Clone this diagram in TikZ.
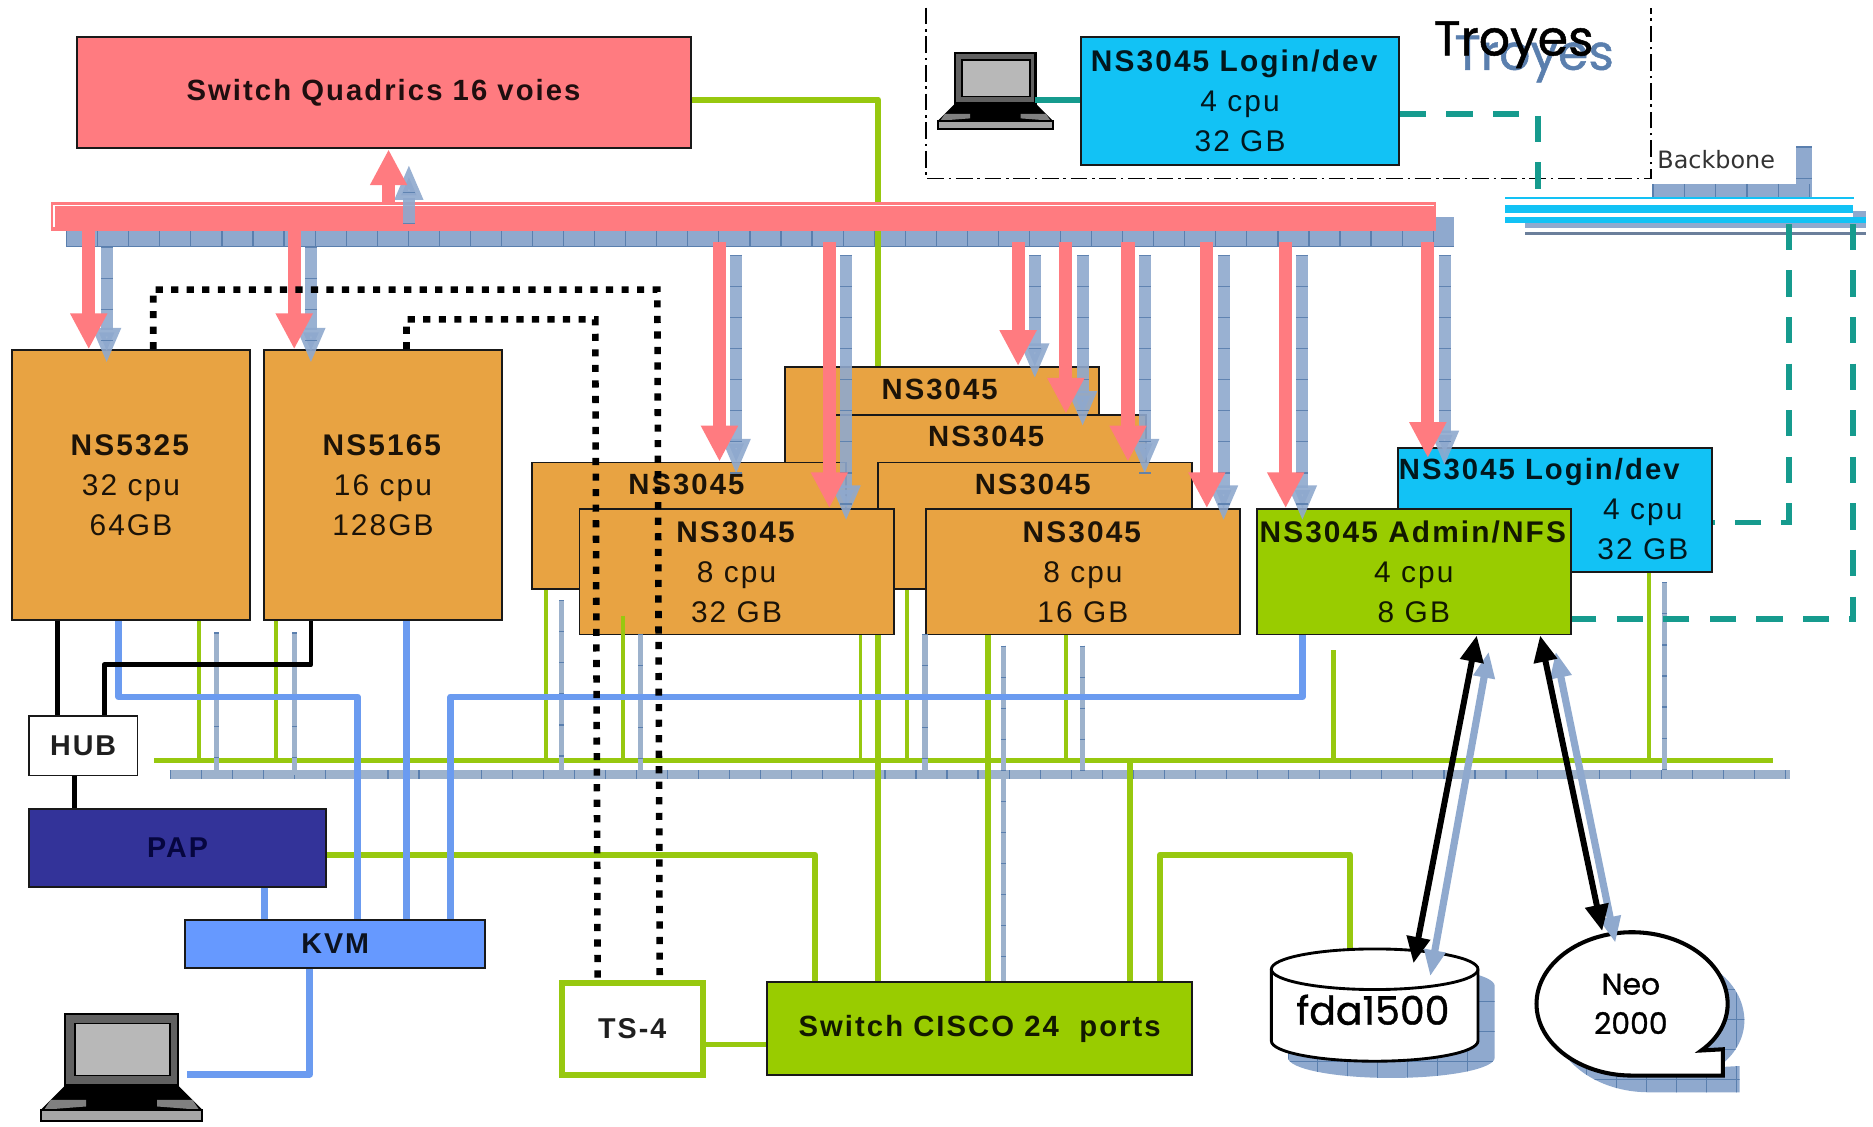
\documentclass[tikz,border=0pt]{standalone}
\usepackage{fontspec}
\setmainfont{Liberation Sans}
\newfontfamily\labfont[LetterSpace=7]{Liberation Sans}
\newfontfamily\comicfont[FakeBold=1]{Poppins}
\newfontfamily\bbfont{DejaVu Sans}
\usetikzlibrary{arrows.meta}
\definecolor{qpink}{HTML}{FF7B80}
\definecolor{qorange}{HTML}{E8A342}
\definecolor{qcyan}{HTML}{12C2F5}
\definecolor{qgreen}{HTML}{99CC00}
\definecolor{qline}{HTML}{97C80F}
\definecolor{qsteel}{HTML}{8FA9CE}
\definecolor{qtick}{HTML}{5A7FAE}
\definecolor{qgrey}{HTML}{9DB2CC}
\definecolor{qkvm}{HTML}{6699FF}
\definecolor{qkvl}{HTML}{6B9BF0}
\definecolor{qnavy}{HTML}{333399}
\definecolor{qteal}{HTML}{169B8E}
\tikzset{
  x=1pt,y=-1pt,
  boxbase/.style={draw=black!90,line width=1.6pt,anchor=north west,inner sep=0pt,align=center,text opacity=.88,
    font=\labfont\fontsize{25}{33.5}\selectfont},
  orangebox/.style={boxbase,fill=qorange},
  cyanbox/.style={boxbase,fill=qcyan},
  greenbox/.style={boxbase,fill=qgreen},
  busfill/.style={anchor=north west,inner sep=0pt,outer sep=0pt},
  toplabel/.style={font=\labfont\bfseries\fontsize{24.5}{30}\selectfont,text opacity=.88},
  pinkarrow/.style={draw=qpink,line width=11pt,-{Triangle[width=29pt,length=30pt,fill=qpink]}},
  steelarrow/.style={draw=qsteel,opacity=.9,line width=10pt,-{Triangle[width=22pt,length=30pt,fill=qsteel]},
    postaction={draw=qtick,arrows=-,dash pattern=on 1pt off 25pt}},
  greenthin/.style={draw=qline,line width=3.2pt},
  greenwide/.style={draw=qline,line width=5pt,line join=round},
  steelthin/.style={draw=qgrey,line width=4.5pt,postaction={draw=qtick,dash pattern=on 1pt off 25pt}},
  kvmline/.style={draw=qkvl,line width=5.5pt,line join=round},
  blackline/.style={draw=black,line width=4pt,line join=round},
  dotline/.style={draw=black,line width=5.5pt,dash pattern=on 6pt off 7pt},
  tealsolid/.style={draw=qteal,line width=5pt},
  tealdash/.style={draw=qteal,line width=5pt,dash pattern=on 22pt off 17pt},
  blackarrow/.style={draw=black,line width=5pt,{Triangle[width=19pt,length=22pt]}-{Triangle[width=19pt,length=22pt]}},
  shadowarrow/.style={draw=qsteel,line width=6pt,{Triangle[width=17pt,length=22pt]}-{Triangle[width=17pt,length=22pt]}},
  laptop/.pic={
    \draw[fill=black!62,draw=black,line width=2pt] (15,1) rectangle (85,45);
    \draw[fill=black!28,draw=black,line width=1.4pt] (21,7) rectangle (80,39);
    \fill[black] (15,45) -- (85,45) -- (100,60) -- (0,60) -- cycle;
    \fill[black!50] (6,54) -- (28,54) -- (28,58) -- (2,60) -- cycle;
    \fill[black!50] (72,54) -- (94,54) -- (98,60) -- (72,58) -- cycle;
    \draw[fill=black!35,draw=black,line width=1.6pt] (0,60) rectangle (100,67);
  },
}
\newcommand{\neopath}{(1425,880) .. controls (1439,870) and (1447,856) .. (1447,841) .. controls (1447,808) and (1411,781) .. (1367,781) .. controls (1323,781) and (1287,808) .. (1287,841) .. controls (1287,874) and (1323,901) .. (1367,901) -- (1443,901) -- (1443,879) -- cycle}
\newcommand{\diskpath}{(1065,812) -- (1065,872) .. controls (1065,881.4) and (1104,889) .. (1151.5,889) .. controls (1199,889) and (1238,881.4) .. (1238,872) -- (1238,812) .. controls (1238,802.6) and (1199,795) .. (1151.5,795) .. controls (1104,795) and (1065,802.6) .. (1065,812) -- cycle}
\begin{document}
\begin{tikzpicture}
\useasboundingbox[fill=white] (0,0) rectangle (1568,943);
\begin{scope}[shift={(-1.7,-1.6)}]

% frame of Troyes
\draw[black,line width=1.3pt,dash pattern=on 14pt off 4pt on 2pt off 4pt] (777,8) -- (777,151) -- (1384,151) -- (1384,8);

% top buses
\node[busfill,fill=qsteel,minimum width=1162pt,minimum height=25pt] (steelbus) at (57,183) {};
\draw[draw=qtick,line width=25pt,dash pattern=on 1pt off 25pt] (steelbus.west) -- (steelbus.east);
\draw[draw=qtick,line width=1.5pt] (steelbus.south west) -- (steelbus.south east);

% Quadrics
\node[boxbase,fill=qpink,minimum width=514pt,minimum height=93pt,font=\labfont\bfseries\fontsize{24.5}{30}\selectfont] (quadrics) at (65,32) {Switch Quadrics 16 voies};
\coordinate (quadup) at (737,85);

% bottom buses
\node[busfill,fill=qgrey,minimum width=1356pt,minimum height=8pt] (greybus) at (144,646) {};
\draw[draw=qtick,line width=8pt,dash pattern=on 1pt off 25pt] (greybus.west) -- (greybus.east);
\node[busfill,fill=qline,minimum width=1355pt,minimum height=4pt] (greenbus) at (131,636) {};

% servers
\node[orangebox,minimum width=199pt,minimum height=226pt] (ns5325) at (11,294) {\textbf{NS5325}\\32 cpu\\64GB};
\node[orangebox,minimum width=199pt,minimum height=226pt] (ns5165) at (222,294) {\textbf{NS5165}\\16 cpu\\128GB};
\node[orangebox,minimum width=263pt,minimum height=106pt,label={[toplabel,anchor=north,yshift=-7pt,xshift=-2pt]north:NS3045}] (srvA) at (658,308) {};
\node[orangebox,minimum width=263pt,minimum height=106pt,label={[toplabel,anchor=north,yshift=-7pt,xshift=-2pt]north:NS3045}] (srvB) at (697,348) {};
\node[orangebox,minimum width=263pt,minimum height=106pt,label={[toplabel,anchor=north,yshift=-7pt,xshift=-2pt]north:NS3045}] (srvC) at (446,388) {};
\node[orangebox,minimum width=263pt,minimum height=106pt,label={[toplabel,anchor=north,yshift=-7pt,xshift=-2pt]north:NS3045}] (srvD) at (736,388) {};
\node[orangebox,minimum width=263pt,minimum height=105pt] (srvE) at (486,427) {\textbf{NS3045}\\8 cpu\\32 GB};
\node[orangebox,minimum width=263pt,minimum height=105pt] (srvF) at (776,427) {\textbf{NS3045}\\8 cpu\\16 GB};
\node[cyanbox,minimum width=263pt,minimum height=104pt,
  label={[toplabel,anchor=north,yshift=-6pt,xshift=-13pt]north:NS3045 Login/dev}] (login2) at (1171,376) {};
\node[anchor=center,font=\labfont\fontsize{25}{33.5}\selectfont,align=center,text opacity=.88] (login2t) at (1377,445) {4 cpu\\32 GB};
\node[greenbox,minimum width=263pt,minimum height=105pt] (admin) at (1053,427) {\textbf{NS3045 Admin/NFS}\\4 cpu\\8 GB};
\node[cyanbox,minimum width=266pt,minimum height=107pt] (login1) at (906,32) {\textbf{NS3045 Login/dev}\hspace*{8pt}\\4 cpu\\32 GB};

% small boxes
\node[boxbase,fill=white,minimum width=91pt,minimum height=50pt,font=\labfont\bfseries\fontsize{24}{30}\selectfont] (hub) at (25,600) {HUB};
\node[boxbase,fill=qnavy,minimum width=249pt,minimum height=65pt,font=\labfont\bfseries\fontsize{24}{30}\selectfont,text=black!80!blue] (pap) at (25,678) {PAP};
\node[boxbase,fill=qkvm,minimum width=251pt,minimum height=40pt,font=\labfont\bfseries\fontsize{24}{30}\selectfont] (kvm) at (156,771) {KVM};
\node[boxbase,fill=qgreen,minimum width=356pt,minimum height=78pt,font=\labfont\bfseries\fontsize{24.5}{30}\selectfont] (cisco) at (643,823) {\raisebox{-3pt}{Switch CISCO 24\ \ ports}};
\node[boxbase,draw=qline,line width=5pt,fill=white,minimum width=118pt,minimum height=77pt,font=\labfont\fontsize{24}{30}\selectfont\bfseries] (ts) at (469.5,822) {TS-4};

% green links
\draw[greenwide] (quadrics.east |- quadup) -- (quadup) -- (737,0 |- steelbus.north);
\draw[greenwide] (737,0 |- steelbus.north) -- (737,0 |- srvA.north);
\node[busfill,fill=qpink,minimum width=1160pt,minimum height=24pt] (pinkbus) at (44,171) {};
\draw[white,line width=1.3pt] (1202,173.5) -- (47,173.5) -- (47,192);
\draw[greenwide] (737,0 |- srvE.south) -- (737,0 |- cisco.north);
\draw[greenwide] (829,0 |- srvF.south) -- (829,0 |- cisco.north);
\draw[greenwide] (948,0 |- greenbus.north) -- (948,0 |- cisco.north);
\coordinate (papturn) at (684,717);
\draw[greenwide] (pap.east |- papturn) -- (papturn) -- (684,0 |- cisco.north);
\coordinate (ciscoturnA) at (973,717);
\coordinate (ciscoturnB) at (1132,717);
\coordinate (disktop) at (1132,798);
\draw[greenwide] (973,0 |- cisco.north) -- (ciscoturnA) -- (ciscoturnB) -- (disktop);
\coordinate (tsout) at (591,876);
\draw[greenwide] (tsout) -- (cisco.west |- tsout);
\foreach \x/\n in {168/ns5325,233/ns5165,459/srvC,722/srvE,761/srvD,894/srvF,1382/login2}
  \draw[greenthin] (\x,0 |- \n.south) -- (\x,0 |- greenbus);
\coordinate (ginE) at (523,517);
\draw[greenthin] (ginE) -- (523,0 |- greenbus);
\coordinate (gfree) at (1118,546);
\draw[greenthin,line width=4pt] (gfree) -- (1118,0 |- greenbus);

% steel thin links
\foreach \x/\y in {183/531,248/531,472/504,538/532,776/532,908/542,1395/489}{
  \coordinate (st\x) at (\x,\y);
  \draw[steelthin] (st\x) -- (\x,0 |- greybus);
}
\coordinate (stcis) at (842,542);
\draw[steelthin] (stcis) -- (842,0 |- cisco.north);

% blue links
\coordinate (k1a) at (101,585); \coordinate (k1b) at (301,585);
\draw[kvmline] (101,0 |- ns5325.south) -- (k1a) -- (k1b) -- (301,0 |- kvm.north);
\draw[kvmline] (342,0 |- ns5165.south) -- (342,0 |- kvm.north);
\coordinate (k3a) at (379,585); \coordinate (k3b) at (1092,585);
\draw[kvmline] (379,0 |- kvm.north) -- (k3a) -- (k3b) -- (1092,0 |- admin.south);
\draw[kvmline] (223,0 |- pap.south) -- (223,0 |- kvm.north);
\coordinate (k4) at (261,901); \coordinate (lapB) at (158,901);
\draw[kvmline] (261,0 |- kvm.south) -- (k4) -- (lapB);

% black links
\draw[blackline] (50,0 |- ns5325.south) -- (50,0 |- hub.north);
\coordinate (b1) at (262,558); \coordinate (b2) at (89,558);
\draw[blackline] (262,0 |- ns5165.south) -- (b1) -- (b2) -- (89,0 |- hub.north);
\draw[blackline] (64,0 |- hub.south) -- (64,0 |- pap.north);

% steel arrows down and up
\draw[steelarrow] (91,0 |- steelbus.south) -- (91,306);
\draw[steelarrow] (262,0 |- steelbus.south) -- (262,306);
\foreach \x/\y in {618/399,710/438,868/319,908/359,960/399,1026/438,1092/438,1211/392}{
  \coordinate (sa\x) at (\x,215);
  \draw[steelarrow] (sa\x) -- (\x,\y);
}
\coordinate (supb) at (344,189); \coordinate (supt) at (344,139);
\draw[steelarrow] (supb) -- (supt);

% pink arrows
\draw[pinkarrow] (327,0 |- pinkbus.north) -- (327,0 |- quadrics.south);
\draw[pinkarrow] (76,0 |- pinkbus.south) -- (76,0 |- ns5325.north);
\draw[pinkarrow] (248,0 |- pinkbus.south) -- (248,0 |- ns5165.north);
\draw[pinkarrow] (604,204) -- (604,0 |- srvC.north);
\draw[pinkarrow] (696,204) -- (696,0 |- srvE.north);
\draw[pinkarrow] (854,204) -- (854,0 |- srvA.north);
\draw[pinkarrow] (894,204) -- (894,0 |- srvB.north);
\draw[pinkarrow] (946,204) -- (946,0 |- srvD.north);
\draw[pinkarrow] (1012,204) -- (1012,0 |- srvF.north);
\draw[pinkarrow] (1078,204) -- (1078,0 |- admin.north);
\coordinate (pinktip) at (1197,385);
\draw[pinkarrow] (1197,204) -- (pinktip);

% dotted links
\coordinate (d1a) at (130,244); \coordinate (d1b) at (552,244);
\draw[dotline] (130,0 |- ns5325.north) -- (d1a) -- (d1b) -- (554,0 |- ts.north);
\coordinate (d2a) at (342,269); \coordinate (d2b) at (500,269);
\draw[dotline] (342,0 |- ns5165.north) -- (d2a) -- (d2b) -- (502,0 |- ts.north);

% backbone
\fill[qsteel] (1385,156) rectangle (1519,168);
\fill[qsteel] (1505,124) rectangle (1519,168);
\draw[qtick,line width=12pt,dash pattern=on 1.2pt off 25pt] (1385,162) -- (1519,162);
\draw[qtick,line width=14pt,dash pattern=on 1.2pt off 25pt] (1512,124) -- (1512,168);
\fill[qsteel] (1278,188) rectangle (1564,192.5);
\fill[qsteel] (1553,178) rectangle (1564,192.5);
\fill[black!25!qsteel] (1278,195.5) rectangle (1564,198.5);
\draw[qcyan,line width=1.8pt] (1262,167) -- (1554,167);
\node[busfill,fill=qcyan,minimum width=291pt,minimum height=6.5pt] (backbone) at (1262,173.5) {};
\fill[qcyan] (1262,183.5) rectangle (1564,188.5);
\node[anchor=west,font=\bbfont\fontsize{20}{22}\selectfont,inner sep=0pt,text=black!80] (bbtxt) at (1389,135) {Backbone};

% teal links
\coordinate (t1a) at (1289,97);
\draw[tealdash] (login1.east |- t1a) -- (t1a) -- (1289,163);
\coordinate (t2a) at (1499,439); \coordinate (t2b) at (1499,189);
\draw[tealdash] (t2b) -- (t2a) -- (login2.east |- t2a);
\coordinate (t3a) at (1553,520); \coordinate (t3b) at (1553,189);
\draw[tealdash] (t3b) -- (t3a) -- (admin.east |- t3a);

% Troyes labels
\node[font=\comicfont\fontsize{41}{44}\selectfont,text=qtick] (troyes2) at (1286,51) {Troyes};
\node[font=\comicfont\fontsize{41}{44}\selectfont,text=black] (troyes1) at (1269,39) {Troyes};

% laptops
\pic[scale=.96] (laptopA) at (787,45) {laptop};
\coordinate (lapAout) at (868,85);
\draw[tealsolid] (lapAout) -- (login1.west |- lapAout);
\pic[xscale=1.35,yscale=1.36] (laptopB) at (36,849) {laptop};

% disk
\begin{scope}[shift={(15,15)}]
  \fill[qsteel] \diskpath;
  \begin{scope}
    \clip \diskpath;
    \foreach \g in {1065,1090,...,1240} \draw[qtick,line width=.8pt] (\g,790) -- (\g,900);
    \foreach \g in {800,825,...,900} \draw[qtick,line width=.8pt] (1060,\g) -- (1250,\g);
  \end{scope}
\end{scope}
\begin{scope}[shift={(1,1)}]
\draw[fill=white,draw=black,line width=2.4pt] \diskpath;
\draw[black,line width=2.4pt] (1065,812) .. controls (1065,821.4) and (1104,829) .. (1151.5,829) .. controls (1199,829) and (1238,821.4) .. (1238,812);
\end{scope}
\node[font=\comicfont\fontsize{33}{36}\selectfont] (fda) at (1151,847) {fda1500};

% Neo
\begin{scope}[shift={(15,15)}]
  \fill[qsteel] \neopath;
  \begin{scope}
    \clip \neopath;
    \foreach \g in {1290,1315,...,1465} \draw[qtick,line width=.8pt] (\g,770) -- (\g,925);
    \foreach \g in {790,815,...,915} \draw[qtick,line width=.8pt] (1280,\g) -- (1465,\g);
  \end{scope}
\end{scope}
\begin{scope}[shift={(1,1)}]
\draw[fill=white,draw=black,line width=3.4pt,line join=miter] \neopath;
\end{scope}
\node[font=\comicfont\fontsize{25}{33}\selectfont,align=center] (neo) at (1367,842) {Neo\\2000};

% storage arrows
\coordinate (sfa) at (1248,547); \coordinate (sfb) at (1199,819);
\draw[shadowarrow] (sfa) -- (sfb);
\coordinate (snb) at (1354,791); \coordinate (sna) at (1304,547);
\draw[shadowarrow] (sna) -- (snb);
\coordinate (afb) at (1185,808);
\draw[blackarrow] (1238,0 |- admin.south) -- (afb);
\coordinate (anb) at (1343,781);
\draw[blackarrow] (1291,0 |- admin.south) -- (anb);
\end{scope}
\end{tikzpicture}
\end{document}
